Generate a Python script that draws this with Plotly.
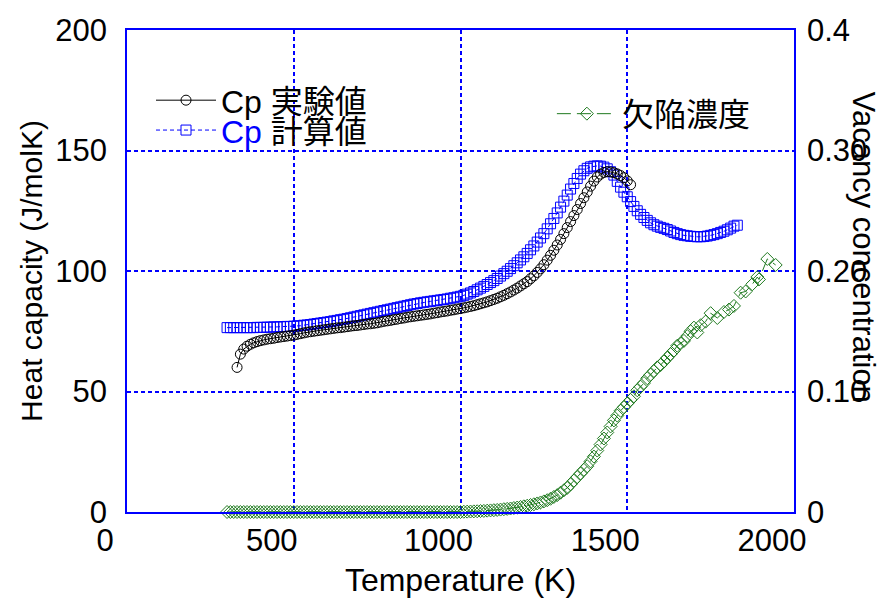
import plotly.graph_objects as go

# ---------------- data ----------------
T_exp = [330, 340, 350, 360, 370, 380, 390, 400, 410, 420, 430, 440, 450, 460, 470, 480, 490,
         500, 510, 520, 530, 540, 550, 560, 570, 580, 590, 600, 610, 620, 630, 640, 650, 660,
         670, 680, 690, 700, 710, 720, 730, 740, 750, 760, 770, 780, 790, 800, 810, 820, 830,
         840, 850, 860, 870, 880, 890, 900, 910, 920, 930, 940, 950, 960, 970, 980, 990, 1000,
         1010, 1020, 1030, 1040, 1050, 1060, 1070, 1080, 1090, 1100, 1110, 1120, 1130, 1140,
         1150, 1160, 1170, 1180, 1190, 1200, 1210, 1220, 1230, 1240, 1250, 1260, 1270, 1280,
         1290, 1300, 1310, 1320, 1330, 1340, 1350, 1360, 1370, 1380, 1390, 1400, 1410, 1420,
         1430, 1440, 1450, 1460, 1470, 1480, 1490, 1500, 1510]
Cp_exp = [60.0, 65.5, 67.6, 68.8, 69.6, 70.2, 70.7, 71.1, 71.4, 71.7, 71.9, 72.1, 72.4, 72.6, 72.8,
          73.0, 73.2, 73.4, 73.7, 74.0, 74.3, 74.6, 74.8, 75.0, 75.2, 75.4, 75.6, 75.8, 76.0,
          76.2, 76.4, 76.5, 76.7, 76.9, 77.1, 77.3, 77.4, 77.6, 77.8, 78.0, 78.1, 78.3, 78.5,
          78.8, 79.1, 79.3, 79.5, 79.8, 80.0, 80.3, 80.5, 80.8, 81.0, 81.2, 81.4, 81.6, 81.8,
          82.0, 82.2, 82.5, 82.7, 83.0, 83.2, 83.4, 83.7, 83.9, 84.2, 84.4, 84.7, 85.0, 85.3,
          85.6, 86.0, 86.4, 86.8, 87.2, 87.7, 88.2, 88.7, 89.3, 89.9, 90.6, 91.3, 92.1, 92.9,
          93.8, 94.7, 95.6, 96.8, 98.0, 99.4, 100.9, 102.6, 104.5, 106.5, 108.6, 110.8, 113.1,
          115.5, 118.0, 120.5, 123.0, 125.5, 128.0, 130.4, 132.8, 135.2, 137.3, 139.0, 140.2,
          140.9, 141.2, 141.1, 140.8, 140.3, 139.6, 138.7, 137.4, 135.8]

T_calc = [300, 310, 320, 330, 340, 350, 360, 370, 380, 390, 400, 410, 420, 430, 440, 450, 460,
          470, 480, 490, 500, 510, 520, 530, 540, 550, 560, 570, 580, 590, 600, 610, 620, 630,
          640, 650, 660, 670, 680, 690, 700, 710, 720, 730, 740, 750, 760, 770, 780, 790, 800,
          810, 820, 830, 840, 850, 860, 870, 880, 890, 900, 910, 920, 930, 940, 950, 960, 970,
          980, 990, 1000, 1010, 1020, 1030, 1040, 1050, 1060, 1070, 1080, 1090, 1100, 1110,
          1120, 1130, 1140, 1150, 1160, 1170, 1180, 1190, 1200, 1210, 1220, 1230, 1240, 1250,
          1260, 1270, 1280, 1290, 1300, 1310, 1320, 1330, 1340, 1350, 1360, 1370, 1380, 1390,
          1400, 1410, 1420, 1430, 1440, 1450, 1460, 1470, 1480, 1490, 1500, 1510, 1520, 1530,
          1540, 1550, 1560, 1570, 1580, 1590, 1600, 1610, 1620, 1630, 1640, 1650, 1660, 1670,
          1680, 1690, 1700, 1710, 1720, 1730, 1740, 1750, 1760, 1770, 1780, 1790, 1800, 1810,
          1820, 1830]
Cp_calc = [76.5, 76.5, 76.5, 76.5, 76.5, 76.5, 76.5, 76.5, 76.5, 76.6, 76.6, 76.6, 76.7, 76.7,
           76.8, 76.8, 76.9, 76.9, 77.0, 77.0, 77.1, 77.2, 77.3, 77.5, 77.6, 77.8, 78.0, 78.2,
           78.4, 78.6, 78.8, 79.0, 79.3, 79.5, 79.8, 80.0, 80.3, 80.6, 80.9, 81.2, 81.5, 81.8,
           82.1, 82.4, 82.7, 83.0, 83.3, 83.6, 83.9, 84.2, 84.5, 84.8, 85.1, 85.4, 85.7, 86.0,
           86.3, 86.5, 86.8, 87.0, 87.2, 87.4, 87.6, 87.8, 88.0, 88.2, 88.4, 88.7, 88.9, 89.2,
           89.5, 89.9, 90.4, 90.9, 91.5, 92.2, 92.9, 93.6, 94.4, 95.2, 96.0, 96.9, 97.9, 98.9,
           99.9, 101.0, 102.2, 103.4, 104.6, 105.9, 107.3, 108.8, 110.4, 112.0, 113.7, 115.5,
           117.5, 119.6, 121.8, 124.1, 126.5, 129.0, 131.5, 134.0, 136.3, 138.4, 140.2, 141.6,
           142.6, 143.2, 143.5, 143.6, 143.5, 143.1, 142.4, 141.2, 139.8, 137.2, 134.8, 132.7,
           130.8, 128.8, 126.8, 125.0, 123.5, 122.2, 121.0, 120.0, 119.2, 118.6, 118.1, 117.7,
           117.2, 116.6, 116.0, 115.5, 115.1, 114.8, 114.6, 114.4, 114.3, 114.2, 114.2, 114.3,
           114.5, 114.8, 115.1, 115.5, 116.0, 116.5, 117.1, 117.8, 118.6, 119.0]

T_vac = [300, 310, 320, 330, 340, 350, 360, 370, 380, 390, 400, 410, 420, 430, 440, 450, 460,
         470, 480, 490, 500, 510, 520, 530, 540, 550, 560, 570, 580, 590, 600, 610, 620, 630,
         640, 650, 660, 670, 680, 690, 700, 710, 720, 730, 740, 750, 760, 770, 780, 790, 800,
         810, 820, 830, 840, 850, 860, 870, 880, 890, 900, 910, 920, 930, 940, 950, 960, 970,
         980, 990, 1000, 1010, 1020, 1030, 1040, 1050, 1060, 1070, 1080, 1090, 1100, 1110,
         1120, 1130, 1140, 1150, 1160, 1170, 1180, 1190, 1200, 1210, 1220, 1230, 1240, 1250,
         1260, 1270, 1280, 1290, 1300, 1310, 1320, 1330, 1340, 1350, 1360, 1370, 1380, 1390,
         1400, 1410, 1420, 1430, 1440, 1450, 1460, 1470, 1480, 1490, 1500, 1510, 1520, 1530,
         1540, 1550, 1560, 1570, 1580, 1590, 1600, 1610, 1620, 1630, 1640, 1650, 1660, 1670,
         1680, 1690, 1700, 1710, 1720, 1735, 1750, 1770, 1790, 1805, 1820, 1840, 1855, 1875,
         1890, 1895, 1920, 1945]
vacancy = [0.0, 0.0, 0.0, 0.0, 0.0, 0.0, 0.0, 0.0, 0.0, 0.0, 0.0, 0.0, 0.0, 0.0, 0.0, 0.0, 0.0,
           0.0, 0.0, 0.0, 0.0, 0.0, 0.0, 0.0, 0.0, 0.0, 0.0, 0.0, 0.0, 0.0, 0.0, 0.0, 0.0, 0.0,
           0.0, 0.0, 0.0, 0.0, 0.0, 0.0, 0.0, 0.0, 0.0, 0.0, 0.0, 0.0, 0.0, 0.0, 0.0, 0.0, 0.0,
           0.0, 0.0, 0.0, 0.0, 0.0, 0.0, 0.0, 0.0, 0.0, 0.0, 0.0, 0.0, 0.0, 0.0, 0.0, 0.0, 0.0,
           0.0, 0.0, 0.0, 0.0002, 0.0003, 0.0004, 0.0005, 0.0006, 0.0008, 0.0009, 0.0011,
           0.0013, 0.0015, 0.0017, 0.0020, 0.0023, 0.0026, 0.0029, 0.0033, 0.0037, 0.0042,
           0.0047, 0.0052, 0.0058, 0.0064, 0.0071, 0.0079, 0.0088, 0.0098, 0.0110, 0.0125,
           0.0140, 0.0160, 0.0180, 0.0200, 0.0230, 0.0260, 0.0290, 0.0320, 0.0350, 0.0380,
           0.0420, 0.0460, 0.0510, 0.0560, 0.0610, 0.0660, 0.0710, 0.0760, 0.0800, 0.0840,
           0.0870, 0.0900, 0.093, 0.096, 0.101, 0.104, 0.107, 0.111, 0.114, 0.117, 0.120,
           0.122, 0.125, 0.128, 0.131, 0.134, 0.138, 0.140, 0.142, 0.146, 0.150, 0.153, 0.149,
           0.155, 0.158, 0.165, 0.161, 0.166, 0.168, 0.171, 0.182, 0.183, 0.189, 0.195, 0.193,
           0.210, 0.205]

x_tickvals = [0, 500, 1000, 1500, 2000]
y_tickvals = [0, 50, 100, 150, 200]
y2_tickvals = [0, 0.1, 0.2, 0.3, 0.4]
y2_ticktext = ["0", "0.10", "0.20", "0.30", "0.4"]

name_exp = "Cp 実験値"
name_calc = '<span style="color:#0000ff">Cp</span> 計算値'
name_vac = "欠陥濃度"

# ---------------- styling ----------------
FONT = "Liberation Sans, Arial, Noto Sans CJK JP, sans-serif"
BLUE = "#0000ff"
GREEN = "#1f7a1f"

fig = go.Figure()
fig.add_trace(go.Scatter(
    x=T_calc, y=Cp_calc, name=name_calc, mode="lines+markers", legend="legend2",
    line=dict(color=BLUE, width=1, dash="4px,3px"),
    marker=dict(symbol="square-open", size=10, color=BLUE, line=dict(width=1, color=BLUE)),
))
fig.add_trace(go.Scatter(
    x=T_exp, y=Cp_exp, name=name_exp, mode="lines+markers", legend="legend",
    line=dict(color="black", width=1),
    marker=dict(symbol="circle-open", size=10, color="black", line=dict(width=1, color="black")),
))
fig.add_trace(go.Scatter(
    x=T_vac, y=vacancy, name=name_vac, mode="lines+markers", legend="legend3", yaxis="y2",
    cliponaxis=False,
    line=dict(color=GREEN, width=1, dash="14px,6px"),
    marker=dict(symbol="diamond-open", size=10, color=GREEN, line=dict(width=1, color=GREEN)),
))

axis_common = dict(
    showgrid=True, gridcolor=BLUE, gridwidth=1.5, griddash="4px,3px",
    showline=True, linecolor=BLUE, linewidth=1.5, mirror=True, automargin=False,
    zeroline=False, ticks="", tickfont=dict(size=31, color="black", family=FONT),
)

legend_common = dict(
    xanchor="left", yanchor="middle", bgcolor="rgba(0,0,0,0)", borderwidth=0,
    font=dict(size=32, family=FONT, color="black"), itemwidth=60,
)

fig.update_layout(
    width=881, height=598,
    margin=dict(l=127, r=87, t=30, b=86),
    paper_bgcolor="white", plot_bgcolor="white",
    font=dict(family=FONT, size=30, color="black"),
    showlegend=True,
    legend=dict(x=0.036, y=0.854, **legend_common),
    legend2=dict(x=0.036, y=0.792, **legend_common),
    legend3=dict(x=0.637, y=0.826, **legend_common),
    xaxis=dict(range=[0, 2000], tickvals=x_tickvals, ticklabelshift=-22, ticklabelstandoff=0,
               title=dict(text="Temperature (K)", font=dict(size=32), standoff=13),
               **axis_common),
    yaxis=dict(range=[0, 200], tickvals=y_tickvals, ticklabelstandoff=12,
               title=dict(text="Heat capacity (J/molK)", font=dict(size=30), standoff=4),
               **axis_common),
    yaxis2=dict(range=[0, 0.4], tickvals=y2_tickvals, ticktext=y2_ticktext, overlaying="y",
                side="right", showgrid=False, showline=True, linecolor=BLUE, linewidth=1.5,
                zeroline=False, ticks="", ticklabelstandoff=5, automargin=False,
                tickfont=dict(size=31, color="black", family=FONT)),
    annotations=[dict(text="Vacancy concentration", textangle=90, xref="paper", yref="paper",
                      x=1.104, y=0.55, xanchor="center", yanchor="middle", showarrow=False,
                      font=dict(size=31, family=FONT, color="black"))],
)

fig.write_html("out.html", config={"displayModeBar": False},
               post_script="document.body.style.margin='0';")
